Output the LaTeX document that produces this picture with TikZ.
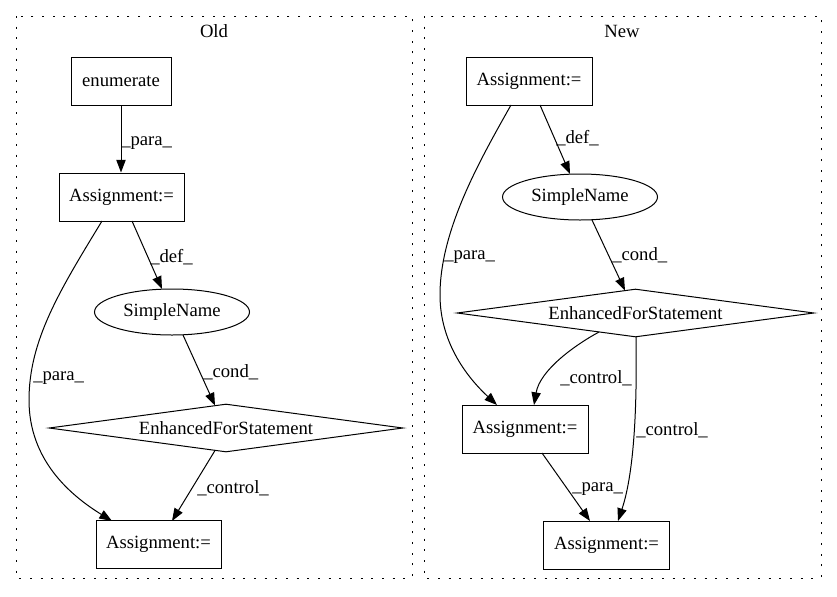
\documentclass[tikz,border=0pt]{standalone}
\usepackage{fontspec}
\setmainfont{Liberation Serif}
\usetikzlibrary{arrows.meta,shapes.geometric,calc}
\tikzset{
  base/.style={font=\fontsize{14pt}{16pt}\selectfont, inner sep=0pt, line width=0.75pt},
  boxnode/.style={base, draw, rectangle, minimum height=36pt},
  ellnode/.style={base, draw, ellipse, minimum width=116.25pt, minimum height=34.5pt},
  dianode/.style={base, draw, diamond, aspect=7.4, minimum height=36pt},
  lbl/.style={font=\fontsize{14pt}{16pt}\selectfont, inner sep=0pt, anchor=west},
  ttl/.style={font=\fontsize{14pt}{16pt}\selectfont, inner sep=0pt},
  edge/.style={line width=0.75pt, -{Triangle[length=9.5pt,width=7pt]}},
  cluster/.style={line width=0.75pt, dash pattern=on 1.5pt off 6.5pt}
}
\begin{document}
\begin{tikzpicture}[x=0.75pt,y=-0.75pt]
\useasboundingbox (0,0) rectangle (837,596);
% clusters
\draw[cluster] (16,16) rectangle (412,578);
\draw[cluster] (424,16) rectangle (821,578);
\node[ttl] (told) at (214,31) {Old};
\node[ttl] (tnew) at (622,31) {New};
% Old nodes
\node[boxnode, minimum width=75pt] (en) at (121,81) {enumerate};
\node[boxnode, minimum width=93.75pt] (a1) at (121.5,197) {Assignment:=};
\node[ellnode] (sn) at (172,312) {SimpleName};
\node[dianode, minimum width=265.5pt] (ef) at (226,428) {EnhancedForStatement};
\node[boxnode, minimum width=93.75pt] (a2) at (158.5,544.5) {Assignment:=};
% New nodes
\node[boxnode, minimum width=94.5pt] (b1) at (529,81) {Assignment:=};
\node[ellnode] (sn2) at (580,197) {SimpleName};
\node[dianode, minimum width=267.75pt] (ef2) at (635.5,313) {EnhancedForStatement};
\node[boxnode, minimum width=94.5pt] (b2) at (525,429) {Assignment:=};
\node[boxnode, minimum width=94pt] (b3) at (606.5,545) {Assignment:=};
% Old edges
\draw[edge] (en.south) -- (en.south |- a1.north);
\draw[edge] ([shift={(10.5,24)}]a1.center) -- ([shift={(-10,-23)}]sn.center);
\draw[edge] ([shift={(-19.5,24)}]a1.center) .. controls (60,290) and (29,340) .. (29,400)
  .. controls (29,460) and (70,495) .. ([shift={(-46.5,-23.5)}]a2.center);
\draw[edge] ([shift={(11,23)}]sn.center) -- ([shift={(-11,-22.5)}]ef.center);
\draw[edge] ([shift={(-11,22.5)}]ef.center) -- ([shift={(13.5,-23.5)}]a2.center);
% Old labels
\node[lbl] (l1) at (121,143) {\_para\_};
\node[lbl] (l2) at (150,257) {\_def\_};
\node[lbl] (l3) at (33,378) {\_para\_};
\node[lbl] (l4) at (203,372) {\_cond\_};
\node[lbl] (l5) at (197,488) {\_control\_};
% New edges
\draw[edge] ([shift={(11,24)}]b1.center) -- ([shift={(-10,-23)}]sn2.center);
\draw[edge] ([shift={(-18,24)}]b1.center) .. controls (480,160) and (440,230) .. (440,295)
  .. controls (440,345) and (470,380) .. ([shift={(-28,-24)}]b2.center);
\draw[edge] ([shift={(12,23)}]sn2.center) -- ([shift={(-10.5,-22.5)}]ef2.center);
\draw[edge] ([shift={(-36.5,19)}]ef2.center) .. controls (575,345) and (540,370) .. ([shift={(9,-24)}]b2.center);
\draw[edge] ([shift={(0.5,24)}]ef2.center) .. controls (637,400) and (635,470) .. ([shift={(11.5,-24)}]b3.center);
\draw[edge] ([shift={(17,24)}]b2.center) -- ([shift={(-16.5,-24)}]b3.center);
% New labels
\node[lbl] (m1) at (556,138) {\_def\_};
\node[lbl] (m2) at (444,257) {\_para\_};
\node[lbl] (m3) at (612,255) {\_cond\_};
\node[lbl] (m4) at (560,378) {\_control\_};
\node[lbl] (m5) at (636,430) {\_control\_};
\node[lbl] (m6) at (572,489) {\_para\_};
\end{tikzpicture}
\end{document}
